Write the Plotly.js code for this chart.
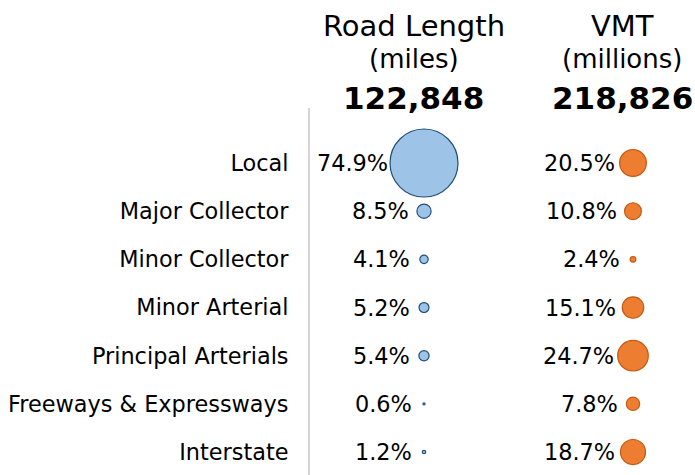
<!DOCTYPE html>
<html><head><meta charset="utf-8">
<script src="https://cdn.plot.ly/plotly-3.0.1.min.js"></script>
<style>html,body{margin:0;padding:0;background:#fff;}#chart{width:695px;height:475px;}</style>
</head><body><div id="chart"></div>
<script>
const categories = ["Local","Major Collector","Minor Collector","Minor Arterial","Principal Arterials","Freeways & Expressways","Interstate"];
const roadLengthPct = [74.9, 8.5, 4.1, 5.2, 5.4, 0.6, 1.2];
const vmtPct = [20.5, 10.8, 2.4, 15.1, 24.7, 7.8, 18.7];
const columns = ["Road Length", "VMT"];
const columnUnits = ["(miles)", "(millions)"];
const columnTotals = ["122,848", "218,826"];

const FONT = "DejaVu Sans, Verdana, sans-serif";
const maxPct = 74.9, maxDiam = 68, expo = 0.72;
const diam = p => maxDiam * Math.pow(p / maxPct, expo);

const traces = [
  {x: categories.map(() => columns[0]), y: categories, mode: "markers", type: "scatter",
   marker: {size: roadLengthPct.map(diam), sizemode: "diameter", opacity: 1, color: "#9dc3e6", line: {color: "#1f4e79", width: 1.2}},
   hoverinfo: "skip", cliponaxis: false},
  {x: categories.map(() => columns[1]), y: categories, mode: "markers", type: "scatter",
   marker: {size: vmtPct.map(diam), sizemode: "diameter", opacity: 1, color: "#ed7d31", line: {color: "#c55a11", width: 1.2}},
   hoverinfo: "skip", cliponaxis: false}
];

const annotations = [];
[roadLengthPct, vmtPct].forEach((arr, ci) => {
  arr.forEach((p, i) => {
    const r = diam(p) / 2;
    annotations.push({x: columns[ci], y: categories[i], xref: "x", yref: "y", text: p.toFixed(1) + "%",
      showarrow: false, xanchor: "right", yanchor: "middle", xshift: -Math.max(r + 3, 0.5 * r + 12.5) + 3,
      font: {family: FONT, size: 22.4, color: "#000"}});
  });
});
const titleY = px => 1 - px / 475;
columns.forEach((c, ci) => {
  annotations.push({x: c, xref: "x", y: titleY(26), yref: "paper", text: c, showarrow: false,
    xanchor: "center", yanchor: "middle", xshift: -10.5, font: {family: FONT, size: 29, color: "#000"}});
  annotations.push({x: c, xref: "x", y: titleY(59), yref: "paper", text: columnUnits[ci], showarrow: false,
    xanchor: "center", yanchor: "middle", xshift: -10.5, font: {family: FONT, size: 26, color: "#000"}});
  annotations.push({x: c, xref: "x", y: titleY(98), yref: "paper", text: "<b>" + columnTotals[ci] + "</b>", showarrow: false,
    xanchor: "center", yanchor: "middle", xshift: -10.5, font: {family: FONT, size: 31, color: "#000"}});
});

const layout = {
  width: 695, height: 475, margin: {l: 0, r: 0, t: 0, b: 0},
  paper_bgcolor: "#fff", plot_bgcolor: "#fff", showlegend: false,
  xaxis: {domain: [310/695, 1], type: "category", categoryarray: columns, range: [-0.5455, 1.2967],
    showgrid: false, zeroline: false, showticklabels: false, showline: false, fixedrange: true},
  yaxis: {domain: [0, 367/475], type: "category", categoryarray: categories, range: [6.477, -1.142],
    showgrid: false, zeroline: false, showline: true, linecolor: "#d4d4d4", linewidth: 2,
    ticks: "", ticklabelstandoff: 15, tickfont: {family: FONT, size: 22.4, color: "#000"}, fixedrange: true},
  annotations: annotations
};
Plotly.newPlot("chart", traces, layout, {displayModeBar: false, staticPlot: true});
</script></body></html>
